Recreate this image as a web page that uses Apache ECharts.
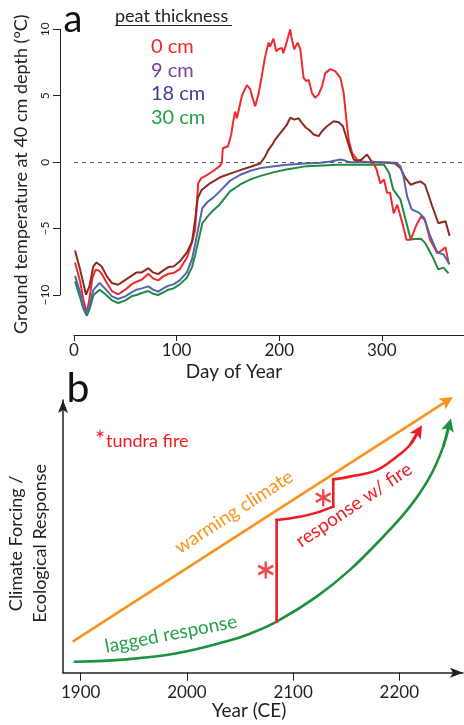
<!DOCTYPE html>
<html>
<head>
<meta charset="utf-8">
<script src="https://cdn.jsdelivr.net/npm/echarts@6/dist/echarts.min.js"></script>
<style>
  html, body { margin: 0; padding: 0; background: #fff; }
  #chart { width: 464px; height: 725px; }
</style>
</head>
<body>
<div id="chart"></div>
<script>
// ---------- Panel a: ground temperature at 40 cm depth ----------
const peatLabels = ['0 cm', '9 cm', '18 cm', '30 cm'];
const dayTicks = [0, 100, 200, 300];
const tempTicks = [-10, -5, 0, 5, 10];

const temp0cm = [[1,-7.55],[6,-9.0],[9,-10.3],[12.5,-11.35],[15,-10.3],[18,-8.7],[21,-8.1],[24,-8.15],[27,-8.4],[32,-9.1],[37,-9.7],[43,-9.95],[50,-9.6],[56,-9.2],[61,-9.0],[66,-8.85],[72.5,-8.4],[77,-8.75],[82,-8.9],[87,-8.6],[92,-8.4],[97,-8.35],[103,-8.05],[110,-7.2],[114.7,-6.1],[118,-5.1],[121,-1.6],[124,-1.2],[130,-0.95],[136,-0.65],[142,-0.3],[144,-0.05],[145,1.05],[150,1.2],[153,2.0],[155,3.0],[157,3.8],[158.7,3.3],[161,4.1],[163.6,5.0],[166,5.4],[168.5,5.8],[171.7,5.5],[173,5.1],[176.6,4.2],[178,4.3],[180,5.2],[183,6.5],[186,7.85],[189.6,9.0],[191,8.7],[194.4,9.3],[197,8.35],[199,8.5],[202.6,8.6],[204,8.2],[207.5,9.1],[210.7,10.0],[212,9.35],[214.6,8.5],[217.9,9.0],[220.5,8.5],[223.7,6.35],[226.3,6.1],[228.6,6.2],[231.9,5.2],[235,4.85],[238.4,5.1],[241.6,5.7],[244.9,6.7],[249.8,7.0],[254.6,6.85],[259.5,6.35],[262.8,5.2],[265.4,3.2],[267.6,1.7],[270.9,0.7],[275.8,0.2],[281,0.05],[288,0.0],[292,-0.1],[295,-0.6],[298.5,-1.6],[302,-1.3],[305,-2.3],[308,-2.3],[311.5,-3.85],[315,-3.2],[320,-4.6],[324,-5.85],[328,-5.85],[333,-4.85],[338,-4.1],[342,-4.35],[347,-5.85],[354,-6.85],[359,-6.6],[362,-6.4],[365,-7.6]];

const temp9cm = [[1,-6.65],[6,-8.1],[11.7,-9.98],[15,-9.35],[18.8,-7.85],[22,-7.55],[27,-7.85],[32,-8.6],[37,-9.1],[43,-9.23],[50,-8.86],[56,-8.56],[61,-8.3],[66,-8.3],[72.5,-7.98],[77,-8.3],[82,-8.43],[87,-8.15],[92,-7.9],[97,-7.85],[103,-7.48],[110,-6.8],[115,-5.98],[118,-4.35],[120.5,-2.72],[124.4,-2.09],[132.5,-1.59],[142.3,-1.14],[155,-0.79],[162,-0.6],[172,-0.35],[181.5,-0.1],[183,-0.05],[186,0.4],[189.6,0.95],[193,1.3],[196,1.7],[199,2.0],[202.6,2.33],[207.5,2.83],[210.7,3.34],[212.5,3.2],[214.6,3.2],[218.9,3.3],[222,2.96],[226,2.59],[229,2.44],[233.5,2.08],[238.4,1.96],[241.6,2.33],[246.5,2.7],[253,3.08],[258,3.0],[262,2.7],[266,1.7],[269,0.95],[272.5,0.2],[277,0.05],[281,0.25],[285.5,0.58],[290,0.05],[295,0.0],[305,-0.05],[313,-0.1],[318,-0.45],[323,-1.2],[328,-1.7],[333,-1.55],[337.6,-1.45],[342,-1.7],[349,-3.3],[355,-4.6],[362,-4.45],[366,-5.55]];

const temp18cm = [[1,-8.56],[6,-9.8],[9,-10.8],[12.5,-11.4],[15,-10.8],[19,-9.6],[25,-9.1],[30,-9.5],[37,-10.1],[43,-10.3],[50,-10.1],[56,-9.8],[61,-9.6],[66,-9.5],[72.5,-9.35],[77,-9.6],[82,-9.75],[87,-9.5],[92,-9.3],[97,-9.2],[103,-8.9],[110,-8.3],[115,-7.3],[118,-6.2],[121,-5.0],[125,-3.47],[130,-3.0],[136,-2.65],[142,-2.2],[152,-1.4],[162,-0.95],[172,-0.65],[181.5,-0.45],[195,-0.3],[207.5,-0.2],[225,-0.1],[240,-0.05],[250,0.05],[256,0.15],[259.5,0.2],[263,0.15],[266,0.05],[270,0.0],[300,0.0],[314,-0.05],[318,-0.3],[321,-1.05],[324.5,-2.56],[329,-3.56],[336,-3.8],[341,-4.18],[347,-5.56],[354,-6.8],[360,-6.94],[366,-7.7]];

const temp30cm = [[1,-8.98],[6,-10.2],[9,-11.0],[12.5,-11.56],[15,-11.1],[19,-10.0],[25,-9.6],[30,-9.9],[37,-10.4],[43,-10.6],[50,-10.4],[56,-10.1],[61,-10.0],[66,-9.85],[72.5,-9.7],[77,-9.9],[82,-10.0],[87,-9.8],[92,-9.6],[97,-9.5],[103,-9.2],[110,-8.7],[115,-7.9],[118,-7.0],[121,-6.0],[125,-4.6],[130,-4.1],[136,-3.6],[142,-3.18],[152,-2.2],[162,-1.68],[172,-1.3],[181,-1.05],[195,-0.75],[207,-0.55],[227,-0.3],[256,-0.2],[302,-0.2],[307,-0.8],[311,-2.05],[318,-2.8],[323,-4.3],[328,-5.8],[338,-5.76],[342,-6.06],[349,-7.06],[355,-8.07],[360,-7.94],[365,-8.37]];

// ---------- Panel b: conceptual forcing / response ----------
const yearTicks = [1900, 2000, 2100, 2200];
const warmingClimate = [[1892.4, 11.4], [2245.3, 99.8]];
const laggedResponse = [[1894.6,4.0],[1943.3,4.9],[1990.4,7.1],[2037.4,11.5],[2059.4,14.3],[2084.5,18.7],[2122.2,27.9],[2153.5,37.7],[2184.9,49.9],[2210.0,60.9],[2228.9,71.9],[2241.4,82.9],[2247.0,90.9]];
const fireResponse = [[2084.5,18.7],[2084.5,56.0],[2106.4,57.2],[2122.2,58.7],[2137.8,60.9],[2137.8,70.9],[2153.5,71.9],[2178.7,74.3],[2197.5,79.2],[2210.0,83.5],[2218.2,88.7]];
const fireEvents = [[2074.2, 37.7], [2128.4, 64.2]];

// ---------- styling ----------
const FONT = 'Lato';
const INK = '#231F20';
const lineColors = ['#EE2A2E', '#8D2A20', '#5565AD', '#1E8B43'];
const legendColors = ['#EC262C', '#7B3F96', '#3A3F97', '#22A04B'];
const ORANGE = '#F7941D', RED = '#ED1C24', GREEN = '#1E9140';
const ARROW = 'path://M5,0 L10,13 L5,10 L0,13 Z';
const ASTERISK = 'path://M10,0 L10,20 M1.34,5 L18.66,15 M1.34,15 L18.66,5';

const tempSeries = [temp0cm, temp9cm, temp18cm, temp30cm];
const drawOrder = [3, 0, 1, 2];

const seriesA = drawOrder.map(i => ({
  name: peatLabels[i],
  type: 'line',
  xAxisIndex: 0, yAxisIndex: 0,
  data: tempSeries[i],
  showSymbol: false,
  clip: false,
  silent: true,
  lineStyle: { color: lineColors[i], width: 2 },
  itemStyle: { color: lineColors[i] },
  z: 3
}));

// freezing-point reference
seriesA[0].markLine = {
  silent: true,
  symbol: 'none',
  label: { show: false },
  lineStyle: { color: '#555', type: [4, 4], width: 1.2 },
  data: [{ yAxis: 0 }]
};

// break the fire trajectory into vertical jumps and smooth growth arcs
function splitRuns(pts) {
  const runs = [];
  let cur = [pts[0]], vertical = null;
  for (let i = 1; i < pts.length; i++) {
    const v = pts[i][0] === pts[i - 1][0];
    if (vertical === null || v === vertical) { cur.push(pts[i]); vertical = v; }
    else { runs.push({ vertical, pts: cur }); cur = [pts[i - 1], pts[i]]; vertical = v; }
  }
  runs.push({ vertical, pts: cur });
  return runs;
}

function curve(data, color, smooth) {
  return {
    type: 'line', xAxisIndex: 1, yAxisIndex: 1, data,
    showSymbol: false, smooth, clip: false, silent: true,
    lineStyle: { color, width: 2.6, cap: 'square', join: 'miter' }, z: 3
  };
}
function arrowHead(data, color) {
  const n = data.length;
  return {
    type: 'lines', coordinateSystem: 'cartesian2d', xAxisIndex: 1, yAxisIndex: 1,
    polyline: false, clip: false, silent: true,
    symbol: ['none', ARROW], symbolSize: 13,
    lineStyle: { color, width: 2.6, opacity: 1, curveness: 0 },
    data: [{ coords: [data[n - 2], data[n - 1]] }], z: 4
  };
}

const seriesB = [
  arrowHead(warmingClimate, ORANGE),
  curve(laggedResponse, GREEN, 0.4),
  arrowHead(laggedResponse, GREEN),
  ...splitRuns(fireResponse).map(r => curve(r.pts, RED, r.vertical ? false : 0.4)),
  arrowHead(fireResponse, RED),
  {
    type: 'scatter', xAxisIndex: 1, yAxisIndex: 1, data: fireEvents,
    symbol: ASTERISK, symbolSize: [15, 17], silent: true,
    itemStyle: { color: 'transparent', borderColor: RED, borderWidth: 2.6 }, z: 5
  }
];

const chart = echarts.init(document.getElementById('chart'), null, { renderer: 'canvas' });
chart.setOption({
  animation: false,
  backgroundColor: '#fff',
  textStyle: { fontFamily: FONT, color: INK },
  grid: [
    { left: 74, right: 0, top: 29.3, height: 265.7, outerBoundsMode: 'none' },
    { left: 63, right: 1, top: 400, height: 272.7, outerBoundsMode: 'none' }
  ],
  legend: {
    left: 141, top: 31.7, orient: 'vertical',
    itemWidth: 0, itemHeight: 20, itemGap: 3.6, icon: 'none',
    selectedMode: false,
    textStyle: { fontSize: 20, fontFamily: FONT, lineHeight: 20 },
    data: peatLabels.map((n, i) => ({ name: n, icon: 'none', textStyle: { color: legendColors[i] } }))
  },
  xAxis: [
    {
      gridIndex: 0, type: 'value', min: 0, max: 380, offset: 40,
      axisLine: { show: true, onZero: false, lineStyle: { color: INK, width: 1 } },
      axisTick: { show: true, customValues: dayTicks, length: 6, lineStyle: { color: INK } },
      axisLabel: { customValues: dayTicks, fontSize: 17, margin: 7, color: INK, fontFamily: FONT },
      splitLine: { show: false },
      name: 'Day of Year', nameLocation: 'middle', nameGap: 27,
      nameTextStyle: { fontSize: 19, color: INK, fontFamily: FONT, padding: [0, 70, 0, 0] }
    },
    {
      gridIndex: 1, type: 'value', min: 1883.3, max: 2260,
      axisLine: { show: true, onZero: false, symbol: ['none', ARROW], symbolSize: [11, 13], symbolOffset: [0, -6.5], lineStyle: { color: INK, width: 1.5 } },
      axisTick: { show: true, customValues: yearTicks, length: 8, lineStyle: { color: INK } },
      axisLabel: { customValues: yearTicks, fontSize: 17, margin: 11, color: INK, fontFamily: FONT,
        formatter: v => String(v) },
      splitLine: { show: false },
      name: 'Year (CE)', nameLocation: 'middle', nameGap: 29,
      nameTextStyle: { fontSize: 19, color: INK, fontFamily: FONT, padding: [0, 28, 0, 0] }
    }
  ],
  yAxis: [
    {
      gridIndex: 0, type: 'value', min: -10, max: 10, interval: 5, offset: 14,
      axisLine: { show: true, onZero: false, lineStyle: { color: INK, width: 1 } },
      axisTick: { show: true, length: 7, lineStyle: { color: INK } },
      axisLabel: { rotate: 90, fontSize: 12, margin: 9, color: INK, fontFamily: FONT,
        formatter: v => (v < 0 ? '\u2212' + Math.abs(v) : String(v)) },
      splitLine: { show: false },
      name: 'Ground temperature at 40 cm depth (\u00B0C)', nameLocation: 'middle', nameGap: 30,
      nameTextStyle: { fontSize: 18, color: INK, fontFamily: FONT, padding: [0, 24, 0, 0] }
    },
    {
      gridIndex: 1, type: 'value', min: 0, max: 100,
      axisLine: { show: true, onZero: false, symbol: ['none', ARROW], symbolSize: [11, 13], symbolOffset: [0, -6.5], lineStyle: { color: INK, width: 1.5 } },
      axisTick: { show: false }, axisLabel: { show: false }, splitLine: { show: false },
      name: 'Climate Forcing /\nEcological Response', nameLocation: 'middle', nameGap: 11,
      nameTextStyle: { fontSize: 18, lineHeight: 24, color: INK, fontFamily: FONT, padding: [0, 14, 0, 0] }
    }
  ],
  graphic: [
    { type: 'text', x: 73, y: 20, style: { text: 'a', fontSize: 38, fontFamily: FONT, fill: '#111', align: 'center', verticalAlign: 'middle' } },
    { type: 'text', x: 78, y: 389, style: { text: 'b', fontSize: 41, fontFamily: FONT, fill: '#111', align: 'center', verticalAlign: 'middle' } },
    { type: 'text', x: 115, y: 16, style: { text: 'peat thickness', fontSize: 18, fontFamily: FONT, fill: INK, align: 'left', verticalAlign: 'middle' } },
    { type: 'line', shape: { x1: 115, y1: 25.5, x2: 232, y2: 25.5 }, style: { stroke: INK, lineWidth: 1 } },
    { type: 'text', x: 95, y: 439, style: { text: '*', fontSize: 24, fontFamily: FONT, fill: RED, align: 'left', verticalAlign: 'middle' } },
    { type: 'text', x: 106, y: 441, style: { text: 'tundra fire', fontSize: 18, fontFamily: FONT, fill: RED, align: 'left', verticalAlign: 'middle' } },
    { type: 'text', x: 234, y: 512, rotation: 33 * Math.PI / 180, style: { text: 'warming climate', fontSize: 19, fontFamily: FONT, fill: ORANGE, align: 'center', verticalAlign: 'middle' } },
    { type: 'text', x: 354, y: 505, rotation: 34 * Math.PI / 180, style: { text: 'response w/ fire', fontSize: 19, fontFamily: FONT, fill: RED, align: 'center', verticalAlign: 'middle' } },
    { type: 'text', x: 171, y: 634, rotation: 11 * Math.PI / 180, style: { text: 'lagged response', fontSize: 19, fontFamily: FONT, fill: '#23A14A', align: 'center', verticalAlign: 'middle' } }
  ],
  series: [...seriesA, ...seriesB]
});
</script>
</body>
</html>
